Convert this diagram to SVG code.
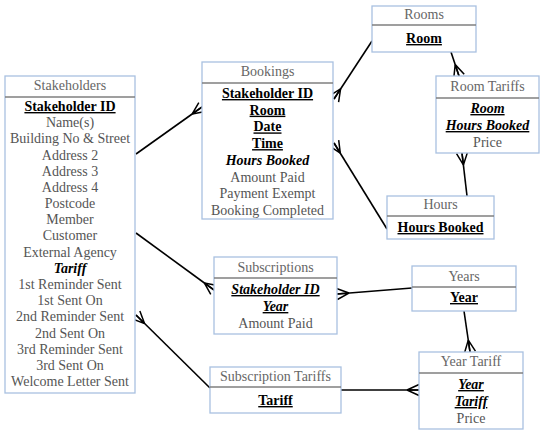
<svg xmlns="http://www.w3.org/2000/svg" width="549" height="440" viewBox="0 0 549 440">
<style>
.box{fill:#fff;stroke:#a9c1e1;stroke-width:1.3}
.div{stroke:#7f7f7f;stroke-width:1.3}
text{font-family:"Liberation Serif","Times New Roman",serif;font-size:14px;text-anchor:middle}
.t{fill:#666}
.a{fill:#555}
.k{fill:#000;font-weight:bold;text-decoration:underline}
.f{fill:#000;font-weight:bold;font-style:italic}
.fk{fill:#000;font-weight:bold;font-style:italic;text-decoration:underline}
.c{stroke:#000;stroke-width:1.6;fill:none;marker-end:url(#crow)}
</style>
<defs>
<marker id="crow" viewBox="0 0 14 14" refX="13" refY="7" markerWidth="14" markerHeight="14" markerUnits="userSpaceOnUse" orient="auto">
<path d="M1,7 L13,1.5 M1,7 L13,7 M1,7 L13,12.5" stroke="#000" stroke-width="1.5" fill="none"/>
</marker>
</defs>
<rect width="549" height="440" fill="#fff"/>
<g id="connectors">
<path class="c" d="M136,154 L202,107"/>
<path class="c" d="M372,41 L334,99"/>
<path class="c" d="M451,52 L459,76"/>
<path class="c" d="M467,196 L462,153"/>
<path class="c" d="M387,229 L334,143"/>
<path class="c" d="M136,233 L214,290"/>
<path class="c" d="M412,288 L337,294"/>
<path class="c" d="M464,311 L470,352"/>
<path class="c" d="M341,390 L419,390"/>
<path class="c" d="M210,388 L136,315"/>
</g>
<g id="stakeholders">
<rect class="box" x="5" y="76" width="130" height="317"/>
<line class="div" x1="5" y1="97" x2="135" y2="97"/>
<text class="t" x="70" y="90">Stakeholders</text>
<text class="k" x="70" y="111">Stakeholder ID</text>
<text class="a" x="70" y="127.2">Name(s)</text>
<text class="a" x="70" y="143.4">Building No &amp; Street</text>
<text class="a" x="70" y="159.5">Address 2</text>
<text class="a" x="70" y="175.7">Address 3</text>
<text class="a" x="70" y="191.9">Address 4</text>
<text class="a" x="70" y="208.1">Postcode</text>
<text class="a" x="70" y="224.3">Member</text>
<text class="a" x="70" y="240.4">Customer</text>
<text class="a" x="70" y="256.6">External Agency</text>
<text class="f" x="70" y="272.8">Tariff</text>
<text class="a" x="70" y="289">1st Reminder Sent</text>
<text class="a" x="70" y="305.2">1st Sent On</text>
<text class="a" x="70" y="321.3">2nd Reminder Sent</text>
<text class="a" x="70" y="337.5">2nd Sent On</text>
<text class="a" x="70" y="353.7">3rd Reminder Sent</text>
<text class="a" x="70" y="369.9">3rd Sent On</text>
<text class="a" x="70" y="386.1">Welcome Letter Sent</text>
</g>
<g id="bookings">
<rect class="box" x="202" y="62" width="131" height="157"/>
<line class="div" x1="202" y1="83" x2="333" y2="83"/>
<text class="t" x="267.5" y="76">Bookings</text>
<text class="k" x="267.5" y="98">Stakeholder ID</text>
<text class="k" x="267.5" y="114.7">Room</text>
<text class="k" x="267.5" y="131.4">Date</text>
<text class="k" x="267.5" y="148.1">Time</text>
<text class="f" x="267.5" y="164.8">Hours Booked</text>
<text class="a" x="267.5" y="181.5">Amount Paid</text>
<text class="a" x="267.5" y="198.2">Payment Exempt</text>
<text class="a" x="267.5" y="214.9">Booking Completed</text>
</g>
<g id="rooms">
<rect class="box" x="372" y="6" width="104" height="46"/>
<line class="div" x1="372" y1="25" x2="476" y2="25"/>
<text class="t" x="424" y="19">Rooms</text>
<text class="k" x="424" y="43">Room</text>
</g>
<g id="room-tariffs">
<rect class="box" x="436" y="76" width="103" height="77"/>
<line class="div" x1="436" y1="98" x2="539" y2="98"/>
<text class="t" x="487.5" y="91">Room Tariffs</text>
<text class="fk" x="487.5" y="113">Room</text>
<text class="fk" x="487.5" y="130">Hours Booked</text>
<text class="a" x="487.5" y="147">Price</text>
</g>
<g id="hours">
<rect class="box" x="387" y="196" width="107" height="43"/>
<line class="div" x1="387" y1="216" x2="494" y2="216"/>
<text class="t" x="440.5" y="209">Hours</text>
<text class="k" x="440.5" y="232">Hours Booked</text>
</g>
<g id="subscriptions">
<rect class="box" x="214" y="257" width="123" height="77"/>
<line class="div" x1="214" y1="278" x2="337" y2="278"/>
<text class="t" x="275.5" y="272">Subscriptions</text>
<text class="fk" x="275.5" y="294">Stakeholder ID</text>
<text class="fk" x="275.5" y="311">Year</text>
<text class="a" x="275.5" y="328">Amount Paid</text>
</g>
<g id="years">
<rect class="box" x="412" y="266" width="104" height="45"/>
<line class="div" x1="412" y1="287" x2="516" y2="287"/>
<text class="t" x="464" y="281">Years</text>
<text class="k" x="464" y="302">Year</text>
</g>
<g id="year-tariff">
<rect class="box" x="419" y="352" width="104" height="77"/>
<line class="div" x1="419" y1="373" x2="523" y2="373"/>
<text class="t" x="471" y="366">Year Tariff</text>
<text class="fk" x="471" y="389">Year</text>
<text class="fk" x="471" y="406">Tariff</text>
<text class="a" x="471" y="423">Price</text>
</g>
<g id="subscription-tariffs">
<rect class="box" x="210" y="367" width="131" height="46"/>
<line class="div" x1="210" y1="387" x2="341" y2="387"/>
<text class="t" x="275.5" y="381">Subscription Tariffs</text>
<text class="k" x="275.5" y="405">Tariff</text>
</g>
</svg>
